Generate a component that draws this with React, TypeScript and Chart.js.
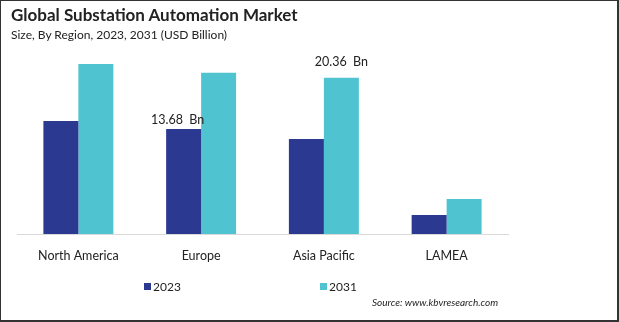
import React, { useEffect, useRef } from "react";
import { Chart, registerables } from "chart.js";

Chart.register(...registerables);

const categories = ["North America", "Europe", "Asia Pacific", "LAMEA"];
const series2023 = [14.72, 13.68, 12.38, 2.48];
const series2031 = [22.15, 20.98, 20.36, 4.56];
const seriesNames = ["2023", "2031"];
const colors = ["#2B3990", "#4FC4D0"];
// [datasetIndex, categoryIndex, text]
const valueLabels: [number, number, string][] = [
  [0, 1, "13.68  Bn"],
  [1, 2, "20.36  Bn"],
];

const FONT = "Lato, 'Open Sans', sans-serif";

export default function App() {
  const ref = useRef<HTMLCanvasElement | null>(null);

  useEffect(() => {
    document.body.style.margin = "0";
    const canvas = ref.current;
    if (!canvas) return;
    const labelPlugin = {
      id: "valueLabels",
      afterDatasetsDraw(chart: any) {
        const ctx = chart.ctx;
        ctx.save();
        ctx.font = `12.5px ${FONT}`;
        ctx.fillStyle = "#222";
        ctx.textAlign = "center";
        ctx.textBaseline = "bottom";
        valueLabels.forEach(([d, i, t]) => {
          const el = chart.getDatasetMeta(d).data[i];
          ctx.fillText(t, el.x - (d === 0 ? 6 : 0), el.y - (d === 0 ? 3 : 9));
        });
        ctx.restore();
      },
    };
    const chart = new Chart(canvas, {
      type: "bar",
      data: {
        labels: categories,
        datasets: [
          { label: seriesNames[0], data: series2023, backgroundColor: colors[0] },
          { label: seriesNames[1], data: series2031, backgroundColor: colors[1] },
        ],
      },
      options: {
        animation: false,
        responsive: false,
        maintainAspectRatio: false,
        layout: { padding: { left: 17, right: 111, top: 42, bottom: 48 } },
        plugins: {
          legend: { display: false },
          tooltip: { enabled: false },
          title: { display: false },
        },
        datasets: { bar: { categoryPercentage: 0.57, barPercentage: 1 } },
        scales: {
          x: {
            grid: { display: false },
            border: { display: true, color: "#d9d9d9", width: 1 },
            ticks: { color: "#222", font: { family: FONT, size: 12.5 }, padding: 6 },
            afterFit: (scale: any) => {
              scale.height = 40;
            },
          },
          y: { display: false, min: 0, max: 25 },
        },
      },
      plugins: [labelPlugin],
    });
    return () => chart.destroy();
  }, []);

  const legendItem = (i: number, left: number) => (
    <div
      style={{
        position: "absolute",
        left,
        top: 279,
        display: "flex",
        alignItems: "center",
        fontFamily: FONT,
        fontSize: 12,
        color: "#222",
      }}
    >
      <span style={{ width: 7, height: 7, background: colors[i], marginRight: 2, display: "inline-block" }} />
      <span>{seriesNames[i]}</span>
    </div>
  );

  return (
    <div style={{ position: "fixed", left: 0, top: 0, width: 619, height: 322, background: "#fff", overflow: "hidden" }}>
      <canvas ref={ref} width={619} height={322} style={{ position: "absolute", left: 0, top: 0, width: 619, height: 322 }} />
      <div style={{ position: "absolute", left: 11, top: 4, fontFamily: FONT, fontWeight: 700, fontSize: 17, color: "#222" }}>
        Global Substation Automation Market
      </div>
      <div style={{ position: "absolute", left: 11, top: 27, fontFamily: FONT, fontSize: 12, color: "#222" }}>
        Size, By Region, 2023, 2031 (USD Billion)
      </div>
      {legendItem(0, 144)}
      {legendItem(1, 320)}
      <div style={{ position: "absolute", left: 372, top: 296, fontFamily: FONT, fontSize: 10, fontStyle: "italic", color: "#222" }}>
        Source: www.kbvresearch.com
      </div>
      <div style={{ position: "absolute", left: 0, top: 0, width: 619, height: 322, boxSizing: "border-box", border: "1px solid #333", borderRightWidth: 2, borderBottomWidth: 2, pointerEvents: "none" }} />
    </div>
  );
}
